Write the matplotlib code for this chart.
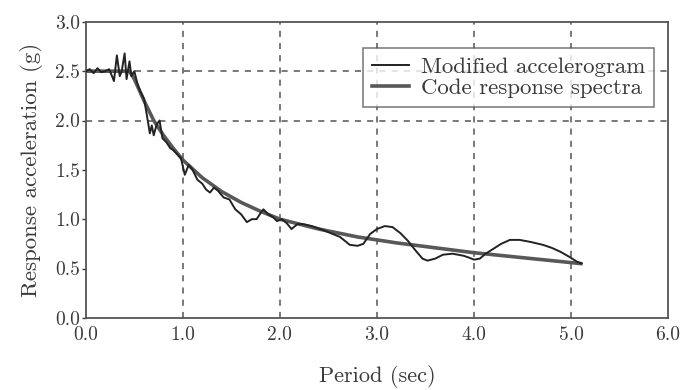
import matplotlib
matplotlib.use('Agg')
import matplotlib.pyplot as plt

plt.rcParams['font.family'] = ['cmr10', 'DejaVu Serif']
plt.rcParams['axes.formatter.use_mathtext'] = True

# code response spectrum
code_T = [0.0, 0.45, 0.5, 0.6, 0.7, 0.8, 0.9, 1.0, 1.2, 1.4, 1.6, 1.8, 2.0,
          2.4, 2.8, 3.2, 3.6, 4.0, 4.5, 5.1]
code_Sa = [2.5, 2.5, 2.42, 2.2, 2.0, 1.85, 1.72, 1.6, 1.42, 1.28, 1.17, 1.08, 1.0,
           0.9, 0.82, 0.76, 0.71, 0.66, 0.61, 0.55]

# spectrum of the modified accelerogram
mod_T = [0.0, 0.04, 0.08, 0.12, 0.16, 0.2, 0.24, 0.27, 0.29, 0.32, 0.35, 0.37,
         0.40, 0.42, 0.45, 0.47, 0.5, 0.53, 0.56, 0.6, 0.63, 0.66, 0.68, 0.70,
         0.73, 0.76, 0.79, 0.83, 0.87, 0.9, 0.94, 0.98, 1.02, 1.06, 1.1, 1.15,
         1.2, 1.24, 1.28, 1.32, 1.36, 1.42, 1.48, 1.54, 1.6, 1.66, 1.71, 1.76,
         1.8, 1.83, 1.88, 1.93, 1.97, 2.02, 2.07, 2.12, 2.18, 2.24, 2.33, 2.42,
         2.52, 2.62, 2.72, 2.8, 2.86, 2.93, 3.0, 3.08, 3.16, 3.24, 3.32, 3.4,
         3.47, 3.52, 3.6, 3.68, 3.78, 3.89, 3.95, 4.0, 4.06, 4.12, 4.2, 4.28,
         4.37, 4.47, 4.58, 4.71, 4.8, 4.89, 4.98, 5.06, 5.11]
mod_Sa = [2.5, 2.52, 2.48, 2.53, 2.49, 2.5, 2.52, 2.45, 2.4, 2.66, 2.45, 2.5,
          2.68, 2.42, 2.6, 2.45, 2.5, 2.38, 2.3, 2.22, 2.05, 1.87, 1.95, 1.85,
          1.96, 2.0, 1.82, 1.78, 1.72, 1.7, 1.66, 1.62, 1.45, 1.55, 1.5, 1.4,
          1.36, 1.3, 1.27, 1.32, 1.29, 1.22, 1.2, 1.1, 1.05, 0.97, 1.0, 1.0,
          1.06, 1.1, 1.05, 1.02, 0.98, 1.0, 0.96, 0.9, 0.95, 0.95, 0.93, 0.9,
          0.86, 0.82, 0.74, 0.73, 0.75, 0.85, 0.9, 0.93, 0.92, 0.86, 0.78, 0.68,
          0.6, 0.58, 0.6, 0.64, 0.65, 0.63, 0.61, 0.59, 0.6, 0.65, 0.7, 0.75,
          0.79, 0.79, 0.77, 0.74, 0.71, 0.67, 0.62, 0.57, 0.55]

x_ticks = [0.0, 1.0, 2.0, 3.0, 4.0, 5.0, 6.0]
y_ticks = [0.0, 0.5, 1.0, 1.5, 2.0, 2.5, 3.0]

text_col = '#3a3a3a'

fig = plt.figure(figsize=(6.81, 3.90), dpi=100)
ax = fig.add_axes([0.126, 0.185, 0.855, 0.759])

for x in x_ticks[1:-1]:
    ax.axvline(x, color='#555555', lw=1.1, ls=(0, (4, 4)), zorder=1)
for y in [2.0, 2.5]:
    ax.axhline(y, color='#555555', lw=1.1, ls=(0, (4, 4)), zorder=1)

ax.plot(code_T, code_Sa, color='#585858', lw=2.6, label='Code response spectra', zorder=2)
ax.plot(mod_T, mod_Sa, color='#222222', lw=1.4, label='Modified accelerogram', zorder=3)

ax.set_xlim(0, 6)
ax.set_ylim(0, 3)
ax.set_xticks(x_ticks)
ax.set_yticks(y_ticks)
ax.set_xticklabels(['%.1f' % v for v in x_ticks])
ax.set_yticklabels(['%.1f' % v for v in y_ticks])
ax.tick_params(axis='both', labelsize=14, colors=text_col, length=3, width=1)
ax.tick_params(axis='x', length=0, pad=6)
ax.tick_params(axis='y', pad=1)

for s in ax.spines.values():
    s.set_color('#555555')
    s.set_linewidth(1.3)

ax.set_xlabel('Period (sec)', fontsize=16, color=text_col, labelpad=15)
ax.set_ylabel('Response acceleration (g)', fontsize=16.5, color=text_col, labelpad=9)

handles, labels = ax.get_legend_handles_labels()
leg = ax.legend(handles[::-1], labels[::-1], loc='upper right',
                bbox_to_anchor=(0.976, 0.912), fontsize=16.5, frameon=True,
                fancybox=False, edgecolor='#555555', handlelength=1.6,
                borderpad=0.4, labelspacing=0.05, handletextpad=0.5,
                borderaxespad=0.0)
leg.get_frame().set_linewidth(1.1)
for t in leg.get_texts():
    t.set_color(text_col)

fig.savefig('out.png', dpi=100)
